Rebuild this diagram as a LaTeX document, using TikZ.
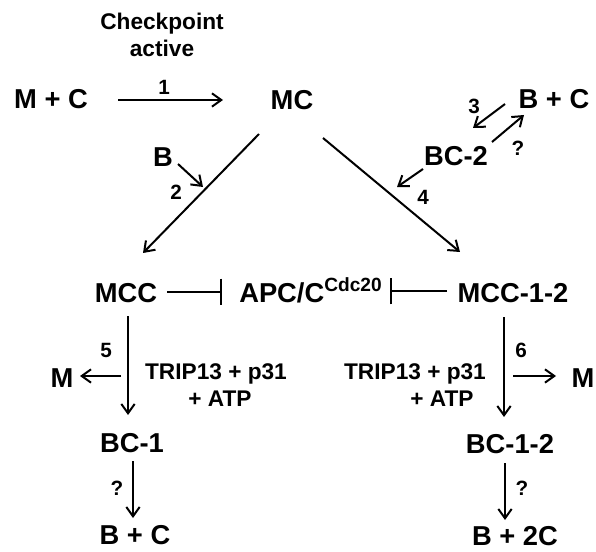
\documentclass[tikz,border=0pt]{standalone}
\usepackage{fontspec}
\setmainfont{Liberation Sans}
\usetikzlibrary{arrows.meta}
\begin{document}
\begin{tikzpicture}[x=0.75pt,y=-0.75pt,
  lbl/.style={font=\bfseries\fontsize{20.5}{23}\selectfont, inner sep=0pt},
  sm/.style={font=\bfseries\fontsize{17}{20}\selectfont, inner sep=0pt, align=center},
  num/.style={font=\bfseries\fontsize{15.5}{17}\selectfont, inner sep=0pt},
  conn/.style={line width=1.5pt},
  arr/.style={conn,-{Straight Barb[length=7pt,width=10pt,line width=1.5pt]}},
  inh/.style={conn,-{Bar[width=20pt,line width=1.5pt]}}
]
\useasboundingbox (0,0) rectangle (596,552);

% species
\node[sm]  (chk)   at (162,35)  {Checkpoint\\active};
\node[lbl] (mpc)   at (51,99)   {M + C};
\node[lbl] (mc)    at (292,100) {MC};
\node[lbl] (bc)    at (554,99)  {B + C};
\node[lbl] (b)     at (163,157) {B};
\node[lbl] (bc2)   at (456,156) {BC-2};
\node[lbl] (mcc)   at (126,293) {MCC};
\node[lbl, anchor=base west] (apc) at (239,302) {APC/C\textsuperscript{Cdc20}};
\node[lbl] (mcc12) at (513,293) {MCC-1-2};
\node[lbl] (m1)    at (62,378)  {M};
\node[lbl] (m2)    at (583,378) {M};
\node[lbl] (bc1)   at (132,443) {BC-1};
\node[lbl] (bc12)  at (510,444) {BC-1-2};
\node[lbl] (bpc)   at (135,535) {B + C};
\node[lbl] (bp2c)  at (515,536) {B + 2C};

% cofactors
\node[sm] (tl1) at (216,374) {TRIP13 + p31};
\node[sm] (tl2) at (220,399) {+ ATP};
\node[sm] (tr1) at (415,374) {TRIP13 + p31};
\node[sm] (tr2) at (442,399) {+ ATP};

% reaction numbers
\node[num] (n1) at (164,87)  {1};
\node[num] (n2) at (176,192) {2};
\node[num] (n3) at (474,106) {3};
\node[num] (n4) at (423,197) {4};
\node[num] (n5) at (106,350) {5};
\node[num] (n6) at (521,350) {6};
\node[num] (q1) at (518,148) {?};
\node[num] (q2) at (117,488) {?};
\node[num] (q3) at (522,488) {?};

% connector end points
\coordinate (r1a) at (118,100);  \coordinate (r1b) at (223,100);
\coordinate (dla) at (259,134);  \coordinate (dlb) at (143,253);
\coordinate (bja) at (178,164);  \coordinate (bjb) at (203,187);
\coordinate (dra) at (323,138);  \coordinate (drb) at (460,252);
\coordinate (r4a) at (423,169);  \coordinate (r4b) at (397,187);
\coordinate (r3a) at (505,104);  \coordinate (r3b) at (473,128);
\coordinate (rqa) at (492,142);  \coordinate (rqb) at (524,115);
\coordinate (ila) at (167,292);  \coordinate (ilb) at (222,292);
\coordinate (ira) at (447,291);  \coordinate (irb) at (390,291);
\coordinate (vla) at (128,316);  \coordinate (vlb) at (128,415);
\coordinate (r5a) at (121,376);  \coordinate (r5b) at (80,376);
\coordinate (vra) at (504,317);  \coordinate (vrb) at (504,417);
\coordinate (r6a) at (513,376);  \coordinate (r6b) at (556,376);
\coordinate (wla) at (133,461);  \coordinate (wlb) at (133,518);
\coordinate (wra) at (505,463);  \coordinate (wrb) at (505,520);

% reactions
\draw[arr] (r1a) -- (r1b);
\draw[arr] (dla) -- (dlb);
\draw[arr] (bja) -- (bjb);
\draw[arr] (dra) -- (drb);
\draw[arr] (r4a) -- (r4b);
\draw[arr] (r3a) -- (r3b);
\draw[arr] (rqa) -- (rqb);
\draw[inh] (ila) -- (ilb);
\draw[inh] (ira) -- (irb);
\draw[arr] (vla) -- (vlb);
\draw[arr] (r5a) -- (r5b);
\draw[arr] (vra) -- (vrb);
\draw[arr] (r6a) -- (r6b);
\draw[arr] (wla) -- (wlb);
\draw[arr] (wra) -- (wrb);
\end{tikzpicture}
\end{document}
